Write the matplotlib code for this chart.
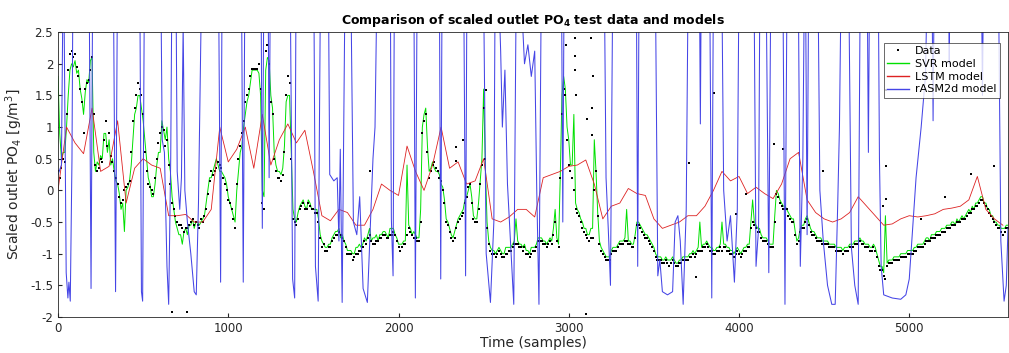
import numpy as np
import matplotlib
matplotlib.use("Agg")
import matplotlib.pyplot as plt

plt.rcParams["font.family"] = ["DejaVu Sans"]
plt.rcParams["mathtext.default"] = "regular"

# sample index of the measured data and SVR output (every 10th sample)
t_data = np.arange(0, 5600, 10)

data = [
    0.3, 0.2, 0.35, 0.5, 0.45, 1.2, 1.9, 2.15, 2.2, 2.1, 2.15, 1.95, 1.8, 1.6, 1.4, 0.9, 1.6, 1.7, 1.75, 1.9,
    2.1, 1.2, 0.4, 0.3, 0.35, 0.5, 0.45, 0.8, 1.1, 0.7, 0.9, 0.55, 0.45, 0.3, 0.2, 0.1, -0.1, -0.2, -0.15, 0.0,
    0.05, 0.1, 0.15, 0.6, 1.1, 1.3, 1.5, 1.7, 1.6, 1.5, 1.2, 0.6, 0.3, 0.1, 0.05, 0.0, -0.05, 0.2, 0.5, 0.75,
    0.9, 1.0, 0.95, 0.7, 0.8, 0.4, 0.1, -0.2, -0.3, -0.4, -0.5, -0.55, -0.55, -0.6, -0.65, -0.6, -0.6, -0.55, -0.5, -0.45,
    -0.55, -0.5, -0.55, -0.6, -0.45, -0.5, -0.4, -0.3, -0.05, 0.15, 0.3, 0.25, 0.3, 0.35, 0.45, 0.4, 0.35, 0.2, 0.1, 0.0,
    -0.15, -0.2, -0.3, -0.45, -0.6, 0.1, 0.5, 0.7, 0.9, 1.1, 1.4, 1.5, 1.6, 1.8, 1.92, 1.92, 1.92, 1.92, 2.0, 1.6,
    -0.2, -0.3, 2.2, 2.3, 2.0, 1.4, 1.2, 0.5, 0.3, 0.2, 0.2, 0.15, 0.25, 0.6, 1.5, 1.8, 1.7, 0.5, -0.45, -0.5,
    -0.55, -0.45, -0.3, -0.25, -0.2, -0.3, -0.3, -0.2, -0.25, -0.3, -0.3, -0.35, -0.35, -0.5, -0.75, -0.9, -0.85, -0.95, -0.95, -0.9,
    -0.9, -0.8, -0.75, -0.7, -0.7, -0.65, -0.7, -0.75, -0.8, -0.9, -1.0, -1.0, -1.0, -1.1, -1.05, -1.0, -1.0, -0.95, -0.95, -0.9,
    -0.8, -0.85, -0.75, -0.7, -0.8, -0.85, -0.85, -0.8, -0.8, -0.75, -0.75, -0.7, -0.7, -0.75, -0.75, -0.7, -0.7, -0.65, -0.7, -0.8,
    -0.9, -0.95, -0.9, -0.85, -0.85, -0.7, -0.6, -0.65, -0.7, -0.75, -0.75, -0.8, -0.8, -0.5, 0.9, 1.1, 1.2, 0.6, 0.2, 0.3,
    0.4, 0.45, 0.35, 0.3, 0.2, 0.15, 0.0, -0.2, -0.5, -0.55, -0.65, -0.75, -0.8, -0.75, -0.6, -0.5, -0.45, -0.4, -0.35, -0.2,
    -0.1, 0.05, 0.1, -0.2, -0.45, -0.5, -0.5, -0.3, 0.1, 0.4, 1.3, 0.5, -0.6, -0.85, -0.95, -1.0, -1.0, -1.05, -1.0, -0.95,
    -1.0, -1.05, -1.05, -1.0, -1.0, -0.95, -0.95, -0.9, -0.85, -0.85, -0.85, -0.9, -0.9, -0.95, -0.9, -1.0, -1.0, -1.05, -1.0, -0.95,
    -0.95, -0.9, -0.8, -0.8, -0.8, -0.85, -0.85, -0.9, -0.85, -0.8, -0.85, -0.7, -0.5, -0.8, -0.9, 0.2, 1.2, 1.6, 1.5, 0.8,
    0.4, 0.3, 0.2, 0.0, -0.3, -0.35, -0.4, -0.5, -0.6, -0.65, -0.7, -0.75, -0.8, -0.75, -0.75, 0.0, 0.3, -0.4, -0.85, -0.95,
    -1.0, -1.05, -1.1, -1.1, -1.1, -1.0, -0.95, -0.95, -0.95, -0.9, -0.85, -0.85, -0.85, -0.8, -0.8, -0.85, -0.85, -0.9, -0.9, -0.75,
    -0.55, -0.55, -0.6, -0.65, -0.7, -0.75, -0.75, -0.8, -0.85, -0.9, -0.95, -1.05, -1.1, -1.1, -1.1, -1.15, -1.15, -1.1, -1.15, -1.2,
    -1.15, -1.1, -1.15, -1.2, -1.2, -1.15, -1.15, -1.1, -1.1, -1.1, -1.1, -1.05, -1.05, -1.0, -1.05, -1.0, -0.95, -0.95, -0.95, -0.9,
    -0.9, -0.85, -0.9, -0.95, -0.95, -1.0, -1.0, -0.95, -0.95, -0.9, -0.95, -0.9, -0.9, -0.95, -0.95, -1.0, -1.0, -1.05, -1.0, -0.95,
    -1.0, -1.05, -1.0, -0.95, -0.95, -0.9, -0.9, -0.6, -0.5, -0.55, -0.6, -0.65, -0.65, -0.75, -0.8, -0.8, -0.8, -0.85, -0.9, -0.9,
    -0.9, -0.5, -0.05, -0.1, -0.2, -0.25, -0.3, -0.3, -0.3, -0.4, -0.45, -0.5, -0.5, -0.7, -0.85, -0.8, -0.65, -0.6, -0.6, -0.5,
    -0.45, -0.55, -0.65, -0.7, -0.7, -0.75, -0.8, -0.8, -0.8, -0.85, -0.85, -0.85, -0.85, -0.9, -0.9, -0.9, -0.9, -0.95, -0.95, -0.95,
    -0.95, -1.0, -0.95, -0.95, -0.95, -0.9, -0.9, -0.9, -0.85, -0.85, -0.85, -0.8, -0.85, -0.85, -0.9, -0.9, -0.9, -0.95, -0.95, -0.9,
    -0.95, -1.05, -1.2, -1.25, -1.25, -1.35, -1.4, -1.2, -1.15, -1.15, -1.15, -1.1, -1.1, -1.1, -1.1, -1.05, -1.05, -1.05, -1.05, -1.0,
    -1.0, -1.0, -1.0, -0.95, -0.95, -0.9, -0.9, -0.9, -0.9, -0.85, -0.8, -0.8, -0.8, -0.75, -0.75, -0.75, -0.7, -0.7, -0.7, -0.65,
    -0.65, -0.65, -0.6, -0.6, -0.6, -0.55, -0.55, -0.55, -0.5, -0.5, -0.5, -0.45, -0.45, -0.45, -0.4, -0.35, -0.35, -0.3, -0.3, -0.25,
    -0.25, -0.2, -0.15, -0.15, -0.2, -0.25, -0.3, -0.35, -0.4, -0.45, -0.5, -0.55, -0.6, -0.6, -0.65, -0.7, -0.65, -0.6, -0.6, -0.65,
]

# isolated measurements far from the main band
out_t = [667, 755, 1831, 2340, 2340, 2380, 2516, 2985, 3034, 3034, 3036, 3040,
         3102, 3110, 3132, 3135, 3138, 3141, 3709, 3748, 3852, 3983, 4042,
         4208, 4257, 4492, 4844, 4863, 4863, 4866, 5069, 5212, 5362, 5499]
out_v = [-1.92, -1.92, 0.3, 0.68, 0.47, 0.8, 1.58, 2.3, 2.4, 2.13, 1.9, 1.5,
         -1.95, 1.13, 2.4, 1.3, 0.87, 1.8, 0.43, -1.37, 1.54, -0.37, -0.05,
         0.74, 0.66, 0.3, -0.24, 1.58, 0.38, -0.13, -0.45, -0.1, 0.26, 0.38]

svr = [
    1.8, 0.9, 0.5, 0.6, 0.6, 1.0, 1.5, 1.9, 2.0, 1.95, 2.05, 1.85, 1.9, 1.6, 1.45, 1.2, 1.55, 1.75, 1.7, 2.05,
    2.1, 0.6, 0.3, 0.45, 0.4, 0.55, 0.5, 0.9, 0.9, 0.6, 0.8, 0.4, 0.5, 0.3, 0.15, 0.1, -0.05, -0.3, -0.2, -0.65,
    0.0, 0.05, 0.15, 0.4, 0.8, 1.2, 1.3, 1.5, 1.5, 1.3, 1.1, 0.8, 0.5, 0.2, 0.1, -0.1, -0.1, 0.1, 0.4, 0.6,
    0.6, 1.1, 0.95, 0.8, 1.0, 0.5, 0.3, -0.1, -0.3, -0.5, -0.6, -0.7, -0.7, -0.85, -0.65, -0.6, -0.7, -0.55, -0.55, -0.45,
    -0.6, -0.5, -0.5, -0.55, -0.5, -0.45, -0.4, -0.2, 0.0, 0.2, 0.2, 0.3, 0.4, 0.5, 0.4, 0.3, 0.3, 0.25, 0.2, 0.1,
    -0.1, -0.2, -0.3, -0.4, -0.5, 0.0, 0.3, 0.6, 0.7, 1.0, 1.2, 1.4, 1.5, 1.7, 1.9, 1.9, 1.9, 1.9, 1.85, 1.5,
    0.0, -0.1, 1.9, 2.1, 2.05, 1.5, 1.3, 0.6, 0.4, 0.3, 0.3, 0.25, 0.35, 0.7, 1.4, 1.5, 1.5, 0.6, -0.3, -0.45,
    -0.5, -0.35, -0.25, -0.2, -0.15, -0.25, -0.3, -0.15, -0.2, -0.3, -0.3, -0.3, -0.3, -0.45, -0.7, -0.8, -0.85, -0.9, -0.9, -0.85,
    -0.85, -0.75, -0.7, -0.65, -0.65, -0.6, -0.75, -0.7, -0.8, -0.85, -0.95, -0.95, -0.95, -1.0, -1.0, -0.9, -0.9, -0.85, -0.9, -0.85,
    -0.75, -0.8, -0.7, -0.6, -0.8, -0.75, -0.75, -0.7, -0.8, -0.7, -0.7, -0.65, -0.65, -0.7, -0.75, -0.6, -0.6, -0.6, -0.7, -0.75,
    -0.85, -0.85, -0.85, -0.8, -0.8, 0.4, -0.55, -0.6, -0.7, -0.65, -0.7, -0.75, -0.75, -0.3, 1.0, 1.2, 1.3, 0.7, 0.3, 0.35,
    0.45, 0.35, 0.3, 0.3, 0.25, 0.1, 0.05, -0.15, -0.45, -0.5, -0.6, -0.7, -0.75, -0.65, -0.55, -0.45, -0.4, -0.35, -0.3, -0.15,
    -0.1, 0.0, 0.1, -0.1, -0.4, -0.45, -0.45, -0.2, 0.15, 0.5, 1.6, 0.4, -0.5, -0.8, -0.9, -0.95, -0.95, -1.0, -0.95, -0.9,
    -0.95, -1.0, -1.0, -0.9, -0.9, -0.9, -0.9, -0.85, -0.8, -0.45, -0.8, -0.85, -0.85, -0.9, -0.85, -0.95, -0.95, -1.0, -0.9, -0.9,
    -0.9, -0.85, -0.75, -0.75, -0.75, -0.8, -0.8, -0.85, -0.8, -0.75, -0.8, -0.6, -0.3, -0.75, -0.85, 0.2, 1.5, 1.8, 1.6, 1.0,
    0.8, 0.4, 0.4, 1.2, -0.2, -0.3, -0.35, -0.45, -0.5, -0.6, -0.6, -0.7, -0.7, -0.6, -0.6, 0.8, 0.3, -0.35, -0.8, -0.9,
    -0.95, -1.0, -1.05, -1.05, -1.05, -0.95, -0.9, -0.9, -0.9, -0.85, -0.8, -0.8, -0.8, -0.75, -0.3, -0.8, -0.8, -0.85, -0.85, -0.7,
    -0.5, -0.5, -0.55, -0.6, -0.65, -0.7, -0.7, -0.75, -0.8, -0.85, -0.9, -1.0, -1.05, -1.05, -1.05, -1.1, -1.1, -1.05, -1.1, -1.1,
    -1.1, -1.05, -1.1, -1.15, -1.15, -1.1, -1.1, -1.05, -1.05, -1.05, -1.05, -1.0, -1.0, -0.95, -1.0, -0.95, -0.9, -0.5, -0.9, -0.85,
    -0.85, -0.8, -0.85, -0.9, -0.9, -0.95, -0.95, -0.9, -0.9, -0.85, -0.5, -0.85, -0.85, -0.9, -0.9, -0.95, -0.95, -1.0, -0.95, -0.9,
    -0.95, -1.0, -0.95, -0.9, -0.9, -0.85, -0.85, -0.5, -0.15, -0.5, -0.55, -0.6, -0.6, -0.7, -0.75, -0.75, -0.75, -0.8, -0.85, -0.85,
    -0.85, -0.4, 0.0, -0.05, -0.15, -0.2, -0.25, -0.25, -0.3, -0.35, -0.4, -0.45, -0.45, -0.65, -0.8, -0.75, -0.6, -0.55, -0.55, -0.45,
    -0.4, -0.5, -0.6, -0.65, -0.65, -0.7, -0.75, -0.75, -0.75, -0.8, -0.8, -0.8, -0.8, -0.85, -0.85, -0.85, -0.85, -0.9, -0.9, -0.9,
    -0.9, -0.95, -0.9, -0.9, -0.9, -0.85, -0.85, -0.85, -0.8, -0.8, -0.8, -0.75, -0.8, -0.8, -0.85, -0.85, -0.85, -0.9, -0.9, -0.85,
    -0.9, -1.0, -1.1, -1.2, -1.2, -1.3, -0.4, -1.15, -1.1, -1.1, -1.1, -1.05, -1.05, -1.05, -1.05, -1.0, -1.0, -1.0, -1.0, -0.95,
    -0.95, -0.95, -0.95, -0.9, -0.9, -0.85, -0.85, -0.85, -0.85, -0.8, -0.75, -0.75, -0.8, -0.7, -0.7, -0.7, -0.65, -0.65, -0.65, -0.6,
    -0.6, -0.6, -0.55, -0.55, -0.55, -0.5, -0.5, -0.55, -0.45, -0.5, -0.45, -0.4, -0.45, -0.4, -0.35, -0.3, -0.35, -0.25, -0.3, -0.2,
    -0.2, -0.15, -0.1, -0.1, -0.2, -0.2, -0.3, -0.3, -0.4, -0.4, -0.5, -0.5, -0.55, -0.55, -0.6, -0.6, -0.6, -0.55, -0.55, -0.6,
]

# LSTM output, every 50th sample
t_lstm = np.arange(0, 5600, 50)
lstm = [
    0.0, 1.0, 0.75, 0.58, 1.3, 0.3, 0.38, 1.1, -0.2, 0.35,
    0.5, 0.4, 0.35, -0.4, -0.4, -0.38, -0.5, -0.5, -0.3, 1.0,
    0.45, 0.65, 1.0, 0.35, 1.2, 0.4, 0.8, 1.05, 0.75, 0.95,
    0.3, -0.4, -0.48, -0.3, -0.35, -0.55, -0.55, -0.3, 0.1, 0.0,
    -0.08, 0.7, 0.3, 0.0, 0.4, 1.0, 0.35, 0.45, 0.1, 0.15,
    0.5, -0.45, -0.5, -0.42, -0.3, -0.3, -0.42, 0.2, 0.25, 0.3,
    0.38, 0.4, 0.48, 0.1, -0.45, -0.25, -0.2, 0.03, -0.05, -0.08,
    -0.45, -0.6, -0.55, -0.5, -0.4, -0.4, -0.25, 0.0, 0.3, 0.15,
    0.22, -0.05, 0.05, -0.05, -0.13, 0.1, 0.5, 0.6, -0.15, -0.35,
    -0.45, -0.5, -0.45, -0.35, -0.1, -0.25, -0.4, -0.55, -0.53, -0.45,
    -0.4, -0.42, -0.4, -0.37, -0.3, -0.28, -0.25, -0.15, 0.22, -0.3,
    -0.45, -0.55,
]

# rASM2d output: turning points (sample, value); values above 2.5 run off the axes
asm_t = [0, 20, 32, 48, 58, 64, 72, 82, 90,
         180, 194, 206, 322, 338, 352, 478, 490, 497, 510,
         600, 612, 625, 640, 650, 662, 672,
         690, 700, 715, 725, 735, 745, 760, 780, 800, 812, 825, 850,
         940, 955, 966, 1075, 1088, 1100,
         1190, 1200, 1212, 1232, 1240, 1250,
         1360, 1378, 1390, 1400, 1500, 1512, 1528, 1545,
         1585, 1596, 1620, 1640, 1650, 1658, 1669, 1690,
         1715, 1735, 1755, 1772, 1792, 1817, 1850, 1862, 1880,
         1950, 1958, 1968, 1978, 2088, 2099, 2112, 2238, 2248, 2258,
         2380, 2394, 2404, 2495, 2515, 2540, 2560, 2570,
         2585, 2600, 2610, 2625, 2640, 2677, 2695,
         2740, 2760, 2780, 2800, 2812, 2825, 2842,
         2955, 2965, 2975, 3205, 3219, 3232, 3245, 3262,
         3395, 3405, 3415,
         3505, 3523, 3535, 3550, 3580, 3610, 3625, 3641, 3655, 3672, 3690, 3705,
         3765, 3773, 3781, 3825, 3840, 3852,
         3895, 3910, 3930, 3950, 3973, 3990, 4003,
         4085, 4100, 4115, 4125, 4155, 4175, 4190,
         4255, 4270, 4285, 4345, 4360, 4375, 4388, 4400, 4412,
         4460, 4475, 4495, 4520, 4545, 4565, 4580, 4590, 4605,
         4640, 4660, 4680, 4700, 4715, 4750, 4760, 4770,
         4815, 4825, 4835, 4850, 4900, 4950, 4980, 5000, 5020, 5040,
         5070, 5095, 5115, 5130, 5140, 5150, 5228, 5235, 5242,
         5420, 5430, 5440, 5520, 5538, 5557, 5570, 5580]
asm_v = [0.25, 0.4, 4.0, -1.3, -1.7, -1.45, -1.75, 0.5, 4.5,
         4.5, -1.55, 4.5, 4.5, -1.6, 4.5, 4.5, -1.6, -1.75, 4.5,
         4.5, 0.8, 0.6, -1.2, -1.8, 0.5, 4.5,
         4.5, 0.3, -0.3, 0.2, 2.6, 0.0, -0.5, -1.0, -1.6, -1.65, -0.2, 4.5,
         4.5, -1.45, 4.5, 4.5, -1.45, 4.5,
         4.5, -0.6, 4.5, 4.5, 0.2, 4.5,
         4.5, -1.4, -1.7, 4.5, 4.5, -1.2, -1.75, 4.5,
         4.5, 0.25, 0.15, 0.2, -0.8, 0.65, -1.77, 4.5,
         4.5, -0.5, -0.7, -0.1, -1.55, -1.77, 0.5, 1.0, 4.5,
         4.5, -0.45, -1.35, 4.5, 4.5, -1.7, 4.5, 4.5, -1.4, 4.5,
         4.5, -1.35, 4.5, 4.5, -1.0, -1.77, -0.5, 4.5,
         3.5, 2.2, 1.0, 1.9, 0.1, -1.8, 4.5,
         2.0, 2.3, 1.8, 2.2, 0.0, -1.8, 4.5,
         4.5, -0.5, 4.5, 4.5, 0.2, -0.6, -1.5, 4.5,
         4.5, -1.2, 4.5,
         4.5, -1.35, -1.1, -1.6, -1.65, -1.6, -0.5, -0.4, -0.8, -1.8, -0.3, 4.5,
         4.5, 1.05, 4.5, 4.5, -1.7, 4.5,
         4.5, 0.0, -0.8, -0.4, -1.45, -0.3, 4.5,
         4.5, -1.2, -0.6, 4.5, 4.5, -1.3, 4.5,
         4.5, -1.8, 4.5, 4.5, -1.2, 0.5, 4.5, -0.7, 4.5,
         4.5, 0.0, -0.8, -1.5, -1.8, -1.8, -0.2, 1.0, 4.5,
         4.5, -0.9, -1.5, -1.8, 4.5, 4.5, 0.6, 4.5,
         4.5, 0.5, -1.2, -1.65, -1.7, -1.72, -1.65, -1.4, -0.6, 0.2,
         1.0, 1.8, 4.5, 4.5, 1.1, 4.5, 4.5, 2.0, 4.5,
         4.5, 1.5, 4.5, 4.5, -0.8, -1.75, -1.5, -0.6]

fig = plt.figure(figsize=(10.09, 3.53), dpi=100)
ax = fig.add_axes([0.0575, 0.102, 0.9415, 0.807])

ax.plot(t_data, svr, color="#00e000", linewidth=0.7, label="SVR model", zorder=2)
ax.plot(t_data, data, "s", color="black", markersize=2.0, markeredgewidth=0,
        label="Data", zorder=2.1)
ax.plot(out_t, out_v, "s", color="black", markersize=2.0, markeredgewidth=0, zorder=2.1)
ax.plot(t_lstm, lstm, color="#dd2222", linewidth=0.6, label="LSTM model", zorder=2.2)
ax.plot(asm_t, asm_v, color="#4545e6", linewidth=0.75, label="rASM2d model", zorder=2.3)

ax.set_xlim(0, 5580)
ax.set_ylim(-2, 2.5)
ax.set_xticks([0, 1000, 2000, 3000, 4000, 5000])
ax.set_yticks(np.arange(-2, 2.51, 0.5))
ax.set_yticklabels(["-2", "-1.5", "-1", "-0.5", "0", "0.5", "1", "1.5", "2", "2.5"])
ax.tick_params(direction="in", length=3, labelsize=8.5, colors="#262626")
for s in ax.spines.values():
    s.set_color("#262626")
    s.set_linewidth(0.6)

ax.set_title("Comparison of scaled outlet PO$_4$ test data and models",
             fontsize=9, fontweight="bold", pad=6)
ax.set_xlabel("Time (samples)", fontsize=10, color="#262626", labelpad=1)
ax.set_ylabel("Scaled outlet PO$_4$ [g/m$^3$]", fontsize=10, color="#262626")

handles, labels = ax.get_legend_handles_labels()
order = [labels.index(n) for n in ["Data", "SVR model", "LSTM model", "rASM2d model"]]
leg = ax.legend([handles[i] for i in order], [labels[i] for i in order],
                loc="upper right", fontsize=8, frameon=True, fancybox=False,
                handlelength=2.0, handletextpad=0.5, borderpad=0.3,
                labelspacing=0.25, bbox_to_anchor=(0.997, 0.982))
leg.get_frame().set_edgecolor("#262626")
leg.get_frame().set_linewidth(0.6)
for h in leg.get_lines():
    h.set_linewidth(1.0)

fig.savefig("out.png", dpi=100)
